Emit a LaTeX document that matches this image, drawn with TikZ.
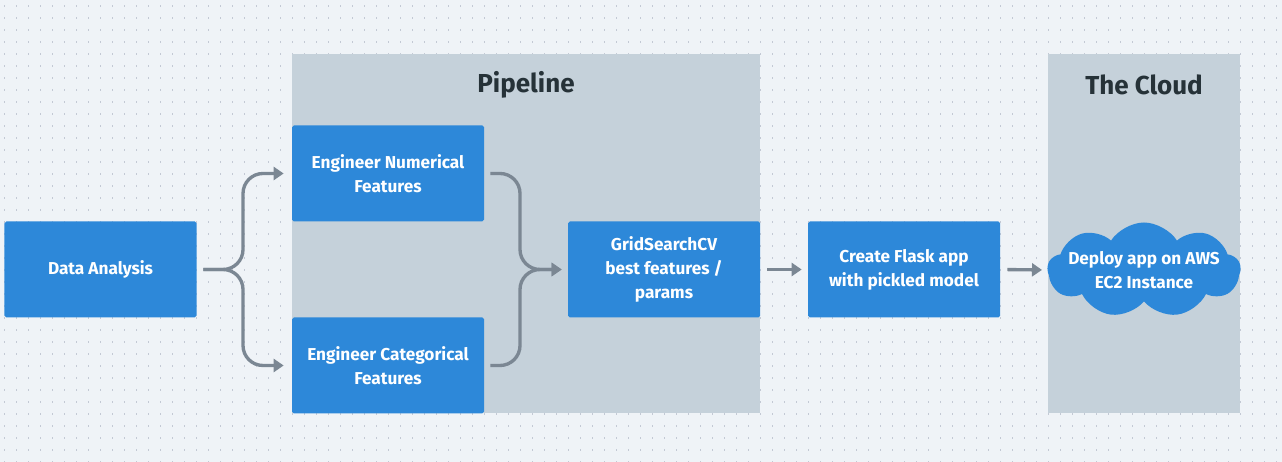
\documentclass[tikz,border=0pt]{standalone}
\usepackage{fontspec}
\setmainfont{Fira Sans}
\usepackage{tikz}
\usetikzlibrary{
    positioning,
    arrows.meta,
    shapes.symbols,
    calc
}
\definecolor{PageBg}{HTML}{EFF3F7}
\definecolor{DotGray}{HTML}{C3C9D4}
\definecolor{PanelGray}{HTML}{C5D1DA}
\definecolor{BoxBlue}{HTML}{2D88D9}
\definecolor{LinkGray}{HTML}{7B8793}
\definecolor{TitleInk}{HTML}{263238}

\begin{document}
\begin{tikzpicture}[
            font=\fontsize{9.8}{13.6}\selectfont\bfseries,
            >={Triangle[length=2mm, width=2.6mm]},
            box/.style={rectangle, fill=BoxBlue, text=white, minimum width=3.84cm, minimum height=1.92cm, align=center, rounded corners=1pt},
            cloudbox/.style={cloud, cloud puffs=9, cloud puff arc=115, aspect=2.1, fill=BoxBlue, inner sep=0pt, minimum width=3.86cm, minimum height=1.9cm},
            cloudtext/.style={text=white, align=center},
            panel/.style={fill=PanelGray},
            paneltitle/.style={font=\fontsize{14.8}{17}\selectfont\bfseries, text=TitleInk},
            link/.style={->, draw=LinkGray, line width=1.9pt, rounded corners=0.4cm},
        ]

        % ===== Background with dot grid =====
        \fill[PageBg] (0,0) rectangle (25.64,9.24);
        \useasboundingbox (0,0) rectangle (25.64,9.24);
        \foreach \i in {0,...,106} {
            \foreach \j in {0,...,38} {
                \fill[DotGray] ({0.08+0.24*\i},{9.14-0.24*\j}) rectangle ++(0.025,-0.035);
            }
        }

        % ===== Panels =====
        \fill[panel] (5.84,0.98) rectangle (15.20,8.16);
        \fill[panel] (20.96,0.98) rectangle (24.80,8.16);
        \node[paneltitle] (pipetitle) at (10.52,7.54) {Pipeline};
        \node[paneltitle] (cloudtitle) at (22.88,7.54) {The Cloud};

        % ===== Steps =====
        \node[box] (analysis) at (2.01,3.85) {Data Analysis};
        \node[box] (numeric) at (7.76,5.77) {Engineer Numerical\\Features};
        \node[box] (categ) at (7.76,1.93) {Engineer Categorical\\Features};
        \node[box] (grid) at (13.28,3.85) {GridSearchCV\\best features /\\params};
        \node[box] (flask) at (18.08,3.85) {Create Flask app\\with pickled model};
        \node[cloudbox, label={[cloudtext]center:Deploy app on AWS\\EC2 Instance}] (deploy) at (22.88,3.84) {};

        % ===== Connectors =====
        \coordinate (fork) at (4.86,3.85);
        \coordinate (merge) at (10.40,3.85);

        \draw[link, shorten <=0.13cm, shorten >=0.16cm] (analysis.east) -- (fork) |- (numeric.west);
        \draw[link, shorten <=0.13cm, shorten >=0.16cm] (analysis.east) -- (fork) |- (categ.west);
        \draw[link, shorten <=0.12cm, shorten >=0.12cm] (numeric.east) -| (merge) -- (grid.west);
        \draw[link, shorten <=0.12cm, shorten >=0.12cm] (categ.east) -| (merge) -- (grid.west);
        \draw[link, shorten <=0.14cm, shorten >=0.12cm] (grid.east) -- (flask.west);
        \draw[link, shorten <=0.14cm, shorten >=0.10cm] (flask.east) -- (deploy.west);
\end{tikzpicture}
\end{document}
